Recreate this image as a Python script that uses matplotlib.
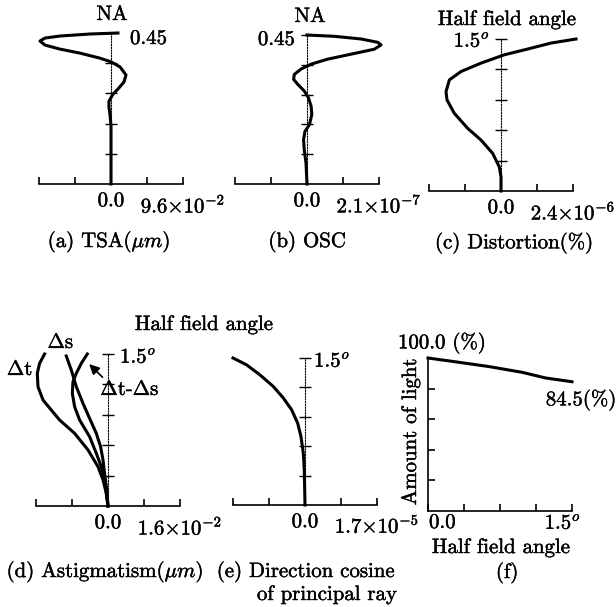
import numpy as np
import matplotlib.pyplot as plt
import matplotlib.patheffects as pe

plt.rcParams['font.family'] = ['cmr10', 'DejaVu Serif']
plt.rcParams['mathtext.fontset'] = 'cm'
plt.rcParams['axes.unicode_minus'] = False
plt.rcParams['font.size'] = 15

# (a) transverse spherical aberration, TSA in 1e-2 um vs NA
na_a = [0.45, 0.447, 0.441, 0.435, 0.426, 0.414, 0.402, 0.390, 0.375, 0.364,
        0.349, 0.325, 0.304, 0.283, 0.268, 0.247, 0.229, 0.206, 0.173, 0.0]
tsa = [0.93, -2.8, -6.8, -8.8, -9.47, -8.8, -6.8, -4.13, -1.47, 0.0,
       1.2, 2.0, 1.73, 0.93, 0.27, -0.27, -0.27, -0.13, 0.0, 0.0]

# (b) OSC in 1e-7 vs NA
na_b = [0.45, 0.446, 0.438, 0.428, 0.420, 0.407, 0.392, 0.377, 0.362, 0.347, 0.331, 0.316,
        0.301, 0.281, 0.261, 0.235, 0.210, 0.179, 0.159, 0.134, 0.103, 0.064, 0.0]
osc = [0.0, 0.80, 1.575, 2.06, 2.16, 1.96, 1.28, 0.60, 0.12, -0.175, -0.37, -0.39,
       -0.27, -0.08, 0.04, 0.12, 0.14, 0.07, -0.06, -0.10, -0.08, -0.03, 0.0]

# (c) distortion in 1e-6 % vs half field angle (deg)
ang_c = [1.5, 1.46, 1.401, 1.344, 1.262, 1.179, 1.097, 0.981, 0.899, 0.767,
         0.618, 0.503, 0.371, 0.238, 0.139, 0.0]
dist = [2.5, 1.667, 0.89, 0.11, -0.667, -1.333, -1.72, -1.833, -1.8, -1.557,
        -1.11, -0.667, -0.277, -0.057, 0.0, 0.0]

# (d) astigmatism in 1e-2 um
ang_dt = [1.5, 1.408, 1.31, 1.177, 1.046, 0.947, 0.849, 0.717, 0.553, 0.388, 0.257, 0.125, 0.0]
dt = [-1.409, -1.52, -1.571, -1.556, -1.444, -1.26, -1.076, -0.742, -0.444, -0.222, -0.111, -0.038, 0.0]
ang_ds = [1.48, 1.342, 1.177, 1.013, 0.849, 0.717, 0.585, 0.454, 0.323, 0.158, 0.0]
ds = [-0.927, -0.816, -0.704, -0.556, -0.393, -0.26, -0.164, -0.111, -0.076, -0.027, 0.0]
ang_dts = [1.5, 1.408, 1.31, 1.227, 1.112, 0.98, 0.849, 0.684, 0.52, 0.388, 0.257, 0.0]
dts = [-0.46, -0.593, -0.704, -0.778, -0.793, -0.742, -0.631, -0.409, -0.26, -0.149, -0.076, 0.0]

# (e) direction cosine of principal ray in 1e-5
ang_e = [1.5, 1.43, 1.329, 1.21, 1.091, 0.971, 0.835, 0.698, 0.529, 0.358, 0.0]
dcos = [-1.70, -1.38, -1.067, -0.75, -0.51, -0.315, -0.173, -0.095, -0.04, -0.017, 0.0]

# (f) amount of light (%)
ang_f = [0.0, 0.287, 0.635, 0.984, 1.228, 1.5]
light = [100.0, 97.5, 94.4, 90.6, 86.9, 84.5]

W, H = 616, 607
fig = plt.figure(figsize=(W/100, H/100), dpi=100)
heavy = [pe.withStroke(linewidth=0.3, foreground='black')]

def pax(x0, x1, yb, yt):
    # axes placed by pixel box (left, right, bottom, top)
    return fig.add_axes([x0/W, 1 - yb/H, (x1 - x0)/W, (yb - yt)/H])

def ftxt(x, y, s, **kw):
    kw.setdefault('ha', 'center'); kw.setdefault('va', 'center')
    fig.text(x/W, 1 - y/H, s, path_effects=heavy, **kw)

def aberr(ax, xmax, ymax, xlab):
    ax.set_xlim(-xmax, xmax); ax.set_ylim(0, ymax)
    ax.patch.set_visible(False)
    ax.spines['top'].set_visible(False); ax.spines['right'].set_visible(False)
    ax.spines['left'].set_position(('data', 0))
    ax.spines['left'].set_linestyle((0, (1, 1.5)))
    ax.spines['left'].set_linewidth(0.8)
    ax.spines['bottom'].set_linewidth(1.2)
    ax.set_xticks(np.linspace(-xmax, xmax, 5))
    ax.set_xticklabels(['', '', '0.0', '', xlab])
    ax.tick_params(axis='x', direction='in', length=5, width=1.2, pad=6)
    for t in ax.get_xticklabels():
        t.set_path_effects(heavy)
    ax.set_yticks(np.linspace(0, ymax, 6)[1:])
    ax.set_yticklabels([])
    ax.tick_params(axis='y', direction='inout', length=8, width=1)

lw = 2.2

axa = pax(39, 183, 184, 33)
aberr(axa, 9.6e-2, 0.45, r'9.6$\times$10$^{-2}$')
axa.plot(np.array(tsa)*1e-2, na_a, color='black', lw=lw, clip_on=False)

axb = pax(235, 379, 184, 35)
aberr(axb, 2.1e-7, 0.45, r'2.1$\times$10$^{-7}$')
axb.plot(np.array(osc)*1e-7, na_b, color='black', lw=lw, clip_on=False)

axc = pax(429, 573, 191, 39)
aberr(axc, 2.4e-6, 1.5, r'2.4$\times$10$^{-6}$')
axc.plot(np.array(dist)*1e-6, ang_c, color='black', lw=lw, clip_on=False)

axd = pax(36, 180, 506, 354)
aberr(axd, 1.6e-2, 1.5, r'1.6$\times$10$^{-2}$')
axd.plot(np.array(dt)*1e-2, ang_dt, color='black', lw=lw, clip_on=False)
axd.plot(np.array(ds)*1e-2, ang_ds, color='black', lw=lw, clip_on=False)
axd.plot(np.array(dts)*1e-2, ang_dts, color='black', lw=lw, clip_on=False)
axd.annotate(r'$\Delta$t-$\Delta$s', xy=(-0.44e-2, 1.41), xytext=(-0.17e-2, 1.145),
             ha='left', va='center', annotation_clip=False, path_effects=heavy,
             arrowprops=dict(arrowstyle='-|>', color='black', lw=1.2,
                             relpos=(0.1, 1.0), shrinkA=1, shrinkB=1))

axe = pax(233, 377, 505, 358)
aberr(axe, 1.7e-5, 1.5, r'1.7$\times$10$^{-5}$')
axe.plot(np.array(dcos)*1e-5, ang_e, color='black', lw=lw, clip_on=False)

axf = pax(428, 572, 511, 358)
axf.set_xlim(0, 1.5); axf.set_ylim(0, 100)
axf.patch.set_visible(False)
axf.spines['top'].set_visible(False); axf.spines['right'].set_visible(False)
axf.spines['left'].set_linewidth(1.2); axf.spines['bottom'].set_linewidth(1.2)
axf.set_xticks(np.linspace(0, 1.5, 5)); axf.set_xticklabels([])
axf.set_yticks([20, 40, 60, 80]); axf.set_yticklabels([])
axf.tick_params(direction='in', length=5, width=1.2)
axf.plot(ang_f, light, color='black', lw=lw, clip_on=False)

# titles and labels
ftxt(112, 15, 'NA')
ftxt(130, 39, '0.45', ha='left')
ftxt(310, 17, 'NA')
ftxt(295, 40, '0.45', ha='right')
ftxt(507, 20, 'Half field angle')
ftxt(490, 41, r'1.5$^o$', ha='right')
ftxt(204, 325, 'Half field angle')
ftxt(61, 343, r'$\Delta$s')
ftxt(20, 370, r'$\Delta$t')
ftxt(120, 357, r'1.5$^o$', ha='left')
ftxt(314, 361, r'1.5$^o$', ha='left')
ftxt(442, 343, '100.0 (%)')
ftxt(581, 400, '84.5(%)')
ftxt(411, 432, 'Amount of light', rotation=90)
ftxt(429, 523, '0.0', ha='left')
ftxt(581, 523, r'1.5$^o$', ha='right')
ftxt(501, 548, 'Half field angle')

# captions
ftxt(109, 242, r'(a) TSA($\mu m$)')
ftxt(307, 242, '(b) OSC')
ftxt(514, 243, '(c) Distortion(%)')
ftxt(105, 572, r'(d) Astigmatism($\mu m$)')
ftxt(306, 572, '(e) Direction cosine')
ftxt(327, 595, 'of principal ray')
ftxt(507, 573, '(f)')

fig.savefig('out.png', dpi=100)
